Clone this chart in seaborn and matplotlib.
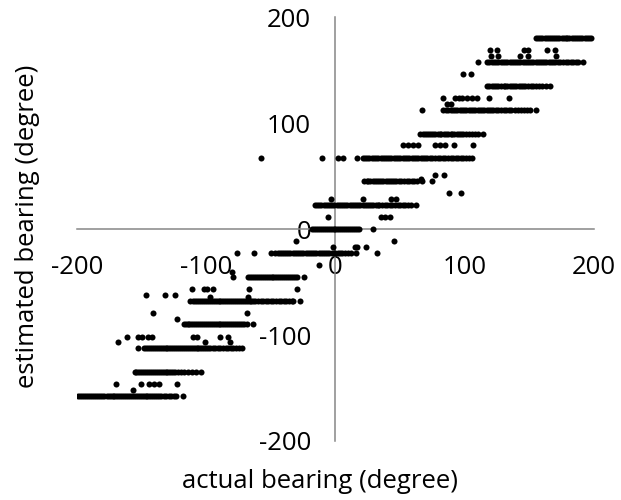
import matplotlib
matplotlib.use("Agg")
import matplotlib.pyplot as plt
import seaborn as sns
import pandas as pd

# ---- data: actual bearing (x) values observed at each estimated bearing level (y) ----
x_180 = [155, 157, 158.5, 160, 162, 163.5, 165, 166.5, 168, 170, 171.5, 173, 175, 176.5, 178,
         179.5, 181, 183, 184.5, 186, 188, 189.5, 191, 193, 194.5, 196, 198]
x_169 = [119.6, 125.2, 145.8, 149.1, 163.7, 169.6]
x_163 = [120, 126, 142.7, 149, 170.4]
x_157 = [110.6, 117, 119, 121, 122.5, 124, 126, 128, 129.5, 131, 133, 135, 136.5, 138, 140, 141.5,
         143, 145, 146.5, 148, 150, 151.5, 153, 155, 156.5, 158, 160, 161.5, 163, 165, 166.5, 168,
         170, 172, 174, 176, 178, 180, 182, 184, 186, 188, 191.4]
x_146 = [99, 104.8]
x_135 = [117, 119, 121, 123, 124.5, 126, 128, 130, 131.5, 133, 135, 136.5, 138, 140, 142, 143.5,
         145, 147, 149, 151, 153, 155, 157.5, 160, 163, 165.8]
x_124 = [83.2, 92.7, 95.2, 97.8, 101.7, 105.5, 109.4, 118.8, 134.5]
x_118 = [86.3, 89.4]
x_112 = [66.7, 83.5, 85.5, 87, 89, 91, 92.5, 94, 96, 98, 99.5, 101, 103, 105, 106.5, 108, 110, 112,
         113.5, 115, 117, 119, 120.5, 122, 124, 126, 128, 130, 132, 134, 136, 138.5, 141, 143.5,
         146, 148, 150.4, 155.3]
x_90 = [65, 67.5, 69, 70.5, 72, 74, 75.5, 77, 79, 80.5, 82, 84, 85.5, 87, 89, 90.5, 92, 94, 95.5,
        97, 99, 101, 103, 105.5, 108, 110.5, 114.5]
x_79 = [52.4, 56, 60.2, 63.7, 77.3, 81.2, 85, 91.9, 106.3]
x_67 = [-58, -10.5, 2, 6, 17, 21, 23, 24.5, 26, 28, 29.5, 31, 33, 35, 36.5, 38, 40, 41.5, 43, 45,
        47, 48.5, 50, 52, 53.5, 55, 57, 59, 60.5, 62, 64, 66, 67.5, 69, 71, 73, 75, 77, 79, 81, 83,
        85, 87, 89, 91, 93, 95, 97, 99, 101, 103, 105.5]
x_51 = [77.3, 83.7]
x_47 = [66.5]
x_45 = [21.7, 24, 25.5, 27, 29, 30.5, 32, 34, 35.5, 37, 39, 40.5, 42, 44, 45.5, 47, 49, 51, 53, 55,
        57, 59, 61, 63.2, 66.8, 74.8]
x_34 = [87.6, 97]
x_28 = [-3.5, 20.9, 43.2, 47.1]
x_22 = [-16, -14, -12.5, -11, -9, -7.5, -6, -4, -2.5, -1, 1, 2.5, 4, 6, 7.5, 9, 11, 12.5, 14, 16,
        17.5, 19, 21, 22.5, 24, 26, 27.5, 29, 31, 32.5, 34, 36, 38, 40, 42, 44, 46, 48, 50, 52, 54,
        56, 58.5, 62]
x_11 = [-6, 35, 38.6, 42.2]
x_0 = [-18.5, -16.5, -15, -13.5, -12, -10.5, -9, -7.5, -6, -4.5, -3, -1.5, 0, 1.5, 3, 4.5, 6, 7.5,
       9, 10.5, 12, 13.5, 15, 16.5, 18.3, 28.8]
x_m11 = [-30.2, 45]
x_m17 = [-2, 15, 17, 23.5]
x_m22 = [-76.5, -63.2, -49.8, -46.5, -44.5, -43, -41.5, -40, -38, -36.5, -35, -33, -31.5, -30, -28,
         -26.5, -25, -23, -21.5, -20, -18, -16.5, -15, -13, -11.5, -10, -8, -6.5, -5, -3, -1.5, 0,
         2, 3.5, 5, 7, 9.4, 12, 15.5, 31.8]
x_m34 = [-12.5]
x_m40 = [-80]
x_m45 = [-79.5, -67.5, -66, -64.5, -63, -61.5, -60, -58.5, -57, -55.5, -54, -52.5, -51, -49.5, -48,
         -46.5, -45, -43.5, -42, -40.5, -39, -37.5, -36, -34.5, -33, -31.5, -29.5, -24]
x_m57 = [-111, -102, -99.6, -95, -67, -29.8]
x_m62 = [-147, -131.7, -124]
x_m64 = [-97, -67.5]
x_m67 = [-112.5, -110, -108.5, -107, -105.5, -104, -102.5, -101, -99.5, -98, -96.5, -95, -93.5, -92,
         -90.5, -89, -87.5, -86, -84.5, -83, -81.5, -80, -78.5, -77, -75.5, -74, -72.5, -71, -69.5,
         -68, -66.5, -65, -63.5, -62, -60, -58, -56, -54, -52, -50, -48, -46, -44, -42, -40, -38,
         -36, -34, -32.5, -27.8]
x_m79 = [-141.4, -68.6]
x_m85 = [-122.5]
x_m90 = [-117.5, -116, -114.5, -113, -111.5, -110, -108.5, -107, -105.5, -104, -102.5, -101, -99.5,
         -98, -96.5, -95, -93.5, -92, -90.5, -89, -87.5, -86, -84.5, -83, -81.5, -80, -78.5, -77,
         -75.5, -74, -72, -70.5, -68.8, -64]
x_m101 = [-161.5, -152.5, -150, -144.7, -142.3, -110.5, -107.5, -89.5, -83]
x_m107 = [-168.5, -101.2, -81.6]
x_m112 = [-152.5, -148, -146.5, -145, -143.5, -142, -140.5, -139, -137.5, -136, -134.5, -133, -131.5,
          -130, -128.5, -127, -125.5, -124, -122.5, -121, -119.5, -118, -116.5, -115, -113.5, -112,
          -110.5, -109, -107.5, -106, -104.5, -103, -101.5, -100, -98.5, -97, -95, -93, -91, -89,
          -87, -85, -83, -81, -79, -77, -75, -72.7]
x_m135 = [-155.5, -154, -152.5, -151, -149.5, -148, -146.5, -145, -143.5, -142, -140.5, -139, -137.5,
          -136, -134.5, -133, -131.5, -130, -128.5, -127, -125.5, -124, -122, -119.5, -117, -114,
          -111, -108, -104]
x_m146 = [-169.7, -150.7, -144.5, -140.6, -136.8, -122.7]
x_m152 = [-157]
x_m157 = [-199.5, -197.5, -196, -194.5, -193, -191.5, -190, -188.5, -187, -185.5, -184, -182.5, -181,
          -179, -177, -175.5, -174, -172.5, -171, -169.5, -168, -166.5, -165, -163.5, -162, -160.5,
          -159, -157.5, -156, -154.5, -153, -151.5, -150, -148.5, -147, -145.5, -144, -142.5, -141,
          -139.5, -138, -136.5, -135, -133, -131, -129, -127, -125, -123.5, -118.3]

# estimated bearing level for each list above
est_levels = [180, 169, 163.5, 157.5, 146.5, 135, 124, 118, 112.5, 90, 79, 67.5, 51, 47.5, 45, 34,
              28.3, 22.5, 11.3, 0, -11, -17, -22.5, -33.7, -40, -45, -56.6, -62, -64, -67.5, -79,
              -85, -90, -101.5, -107, -112.5, -135, -146, -152, -157.5]
actual_lists = [x_180, x_169, x_163, x_157, x_146, x_135, x_124, x_118, x_112, x_90, x_79, x_67,
                x_51, x_47, x_45, x_34, x_28, x_22, x_11, x_0, x_m11, x_m17, x_m22, x_m34, x_m40,
                x_m45, x_m57, x_m62, x_m64, x_m67, x_m79, x_m85, x_m90, x_m101, x_m107, x_m112,
                x_m135, x_m146, x_m152, x_m157]

xs, ys = [], []
for lvl, lst in zip(est_levels, actual_lists):
    xs.extend(lst)
    ys.extend([lvl] * len(lst))
df = pd.DataFrame({"actual": xs, "estimated": ys})

x_ticks = [-200, -100, 0, 100, 200]
y_ticks = [-200, -100, 0, 100, 200]

# ---- drawing ----
sns.set_style("white")
plt.rcParams["font.family"] = ["Open Sans", "DejaVu Sans"]

fig = plt.figure(figsize=(6.21, 5.0), dpi=100)
ax = fig.add_axes([0.124, 0.118, 0.8325, 0.8474])

sns.scatterplot(data=df, x="actual", y="estimated", color="black", s=19,
                linewidth=0, ax=ax, zorder=3)

ax.set_xlim(-200, 200)
ax.set_ylim(-200, 200)
ax.set_xticks(x_ticks)
ax.set_yticks(y_ticks)
ax.set_xticklabels([str(v) for v in x_ticks])
ax.set_yticklabels([str(v) for v in y_ticks])

axis_col = "#868686"
for side in ["top", "right"]:
    ax.spines[side].set_visible(False)
ax.spines["left"].set_position(("data", 0))
ax.spines["bottom"].set_position(("data", 0))
for side in ["left", "bottom"]:
    ax.spines[side].set_color(axis_col)
    ax.spines[side].set_linewidth(1.1)
ax.tick_params(direction="out", length=5.5, width=1.1, color=axis_col,
               labelsize=18.5, labelcolor="black")
ax.tick_params(axis="x", pad=13)
ax.tick_params(axis="y", pad=12)
ax.set_xlabel("")
ax.set_ylabel("")
ax.grid(False)

fig.text(320 / 621, 1 - 481 / 500, "actual bearing (degree)", ha="center", va="center",
         fontsize=18.5, color="black")
fig.text(28 / 621, 1 - 226 / 500, "estimated bearing (degree)", ha="center", va="center",
         rotation=90, fontsize=18.5, color="black")

fig.savefig("out.png", dpi=100)
